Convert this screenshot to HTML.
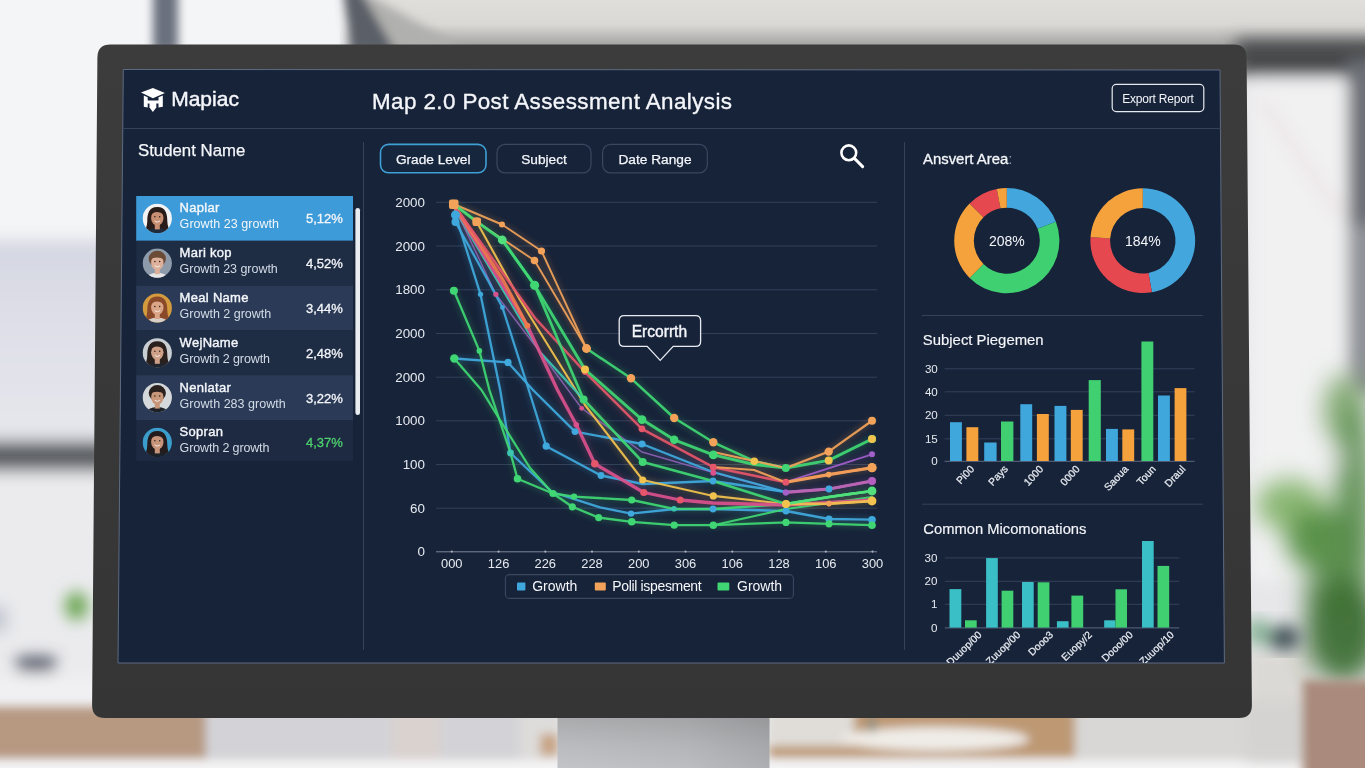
<!DOCTYPE html>
<html lang="en"><head><meta charset="utf-8"><title>Map 2.0 Post Assessment Analysis</title>
<style>
html,body{margin:0;padding:0;background:#e6e6e8;overflow:hidden}
svg{display:block}
text{font-family:"Liberation Sans",sans-serif;fill:#fff}
.t{fill:#f4f6fa}
.sub{fill:#d3dbe6}
.ax{fill:#e6eaf0}
</style></head><body>
<svg width="1365" height="768" viewBox="0 0 1365 768">
<defs>
<filter id="b8" x="-20%" y="-20%" width="140%" height="140%"><feGaussianBlur stdDeviation="8"/></filter>
<filter id="b5" x="-20%" y="-20%" width="140%" height="140%"><feGaussianBlur stdDeviation="5"/></filter>
<filter id="b12" x="-30%" y="-30%" width="160%" height="160%"><feGaussianBlur stdDeviation="12"/></filter>
<filter id="b3" x="-20%" y="-20%" width="140%" height="140%"><feGaussianBlur stdDeviation="3"/></filter>
<linearGradient id="bez" x1="0" y1="0" x2="0" y2="1"><stop offset="0" stop-color="#3c3c3c"/><stop offset="1" stop-color="#353535"/></linearGradient>
<linearGradient id="stand" x1="0" y1="0" x2="1" y2="0"><stop offset="0" stop-color="#c6c7ca"/><stop offset="0.6" stop-color="#bfc0c3"/><stop offset="1" stop-color="#b0b1b4"/></linearGradient>
<linearGradient id="topg" gradientUnits="userSpaceOnUse" x1="0" y1="-10" x2="0" y2="48"><stop offset="0" stop-color="#e2e1de"/><stop offset="0.6" stop-color="#d9d8d5"/><stop offset="1" stop-color="#9c9c9c"/></linearGradient>
<linearGradient id="lav" x1="0" y1="0" x2="0" y2="1"><stop offset="0" stop-color="#d4d6e1"/><stop offset="0.35" stop-color="#dddee7"/><stop offset="1" stop-color="#e7e8ed"/></linearGradient>
<linearGradient id="standsh" x1="0" y1="0" x2="0" y2="1"><stop offset="0" stop-color="#000" stop-opacity="0.15"/><stop offset="0.5" stop-color="#000" stop-opacity="0.06"/><stop offset="1" stop-color="#000" stop-opacity="0"/></linearGradient>
<clipPath id="scr"><path d="M123.3 69.5 L1220 70 L1224.4 663 L118 663 Z"/></clipPath>
</defs>

<g id="bg">
<rect width="1365" height="768" fill="#e7e7ea"/>
<rect x="340" y="-10" width="1030" height="70" fill="url(#topg)"/>
<g filter="url(#b8)">
<rect x="-20" y="-20" width="368" height="265" fill="#f4f5f7"/>
<rect x="-20" y="240" width="140" height="208" fill="url(#lav)"/>
<rect x="-20" y="468" width="140" height="240" fill="#ebebee"/>
<rect x="-20" y="441" width="140" height="30" fill="#595b60"/>
</g>
<g filter="url(#b5)">
<rect x="153" y="-20" width="25" height="72" fill="#6b717e"/>
<polygon points="360,-10 470,52 392,52" fill="#b0b0ae"/>
<polygon points="343,-10 360,-10 396,52 352,52" fill="#5a5e67"/>
</g>
<g filter="url(#b8)">
<ellipse cx="76.500" cy="606" rx="11" ry="14" fill="#62a047"/>
<rect x="16" y="657" width="40" height="14" rx="6" fill="#454b5b"/>
<rect x="-20" y="606" width="27" height="26" fill="#c3c8d1"/>
<rect x="-20" y="678" width="130" height="24" fill="#f1f1f3"/>
</g>
<g filter="url(#b5)">
<rect x="-20" y="707" width="226" height="52" fill="#b79982"/>
<rect x="206" y="700" width="354" height="60" fill="#d3d3d7"/>
<rect x="391" y="700" width="50" height="60" fill="#d9d2cf"/>
<rect x="520" y="700" width="40" height="60" fill="#dedcda"/>
<rect x="540" y="734" width="18" height="22" fill="#c8a585"/>
<rect x="769" y="700" width="306" height="58" fill="#bd9873"/>
<rect x="769" y="700" width="85" height="46" fill="#e0ddd8"/>
<ellipse cx="935" cy="739" rx="94" ry="12" fill="#efece7"/>
<rect x="868" y="716" width="8" height="16" fill="#8f8f80"/>
<rect x="1075" y="700" width="230" height="60" fill="#d8d7d5"/>
<rect x="-20" y="760" width="1400" height="30" fill="#f4f4f5"/>
</g>
<g filter="url(#b8)">
<rect x="1236" y="40" width="150" height="36" fill="#46484c"/>
<rect x="1250" y="80" width="96" height="500" fill="#f1f1f2"/>
<rect x="1348" y="60" width="40" height="170" fill="#6c7076"/>
<rect x="1348" y="225" width="40" height="170" fill="#8e9296"/>
<rect x="1246" y="650" width="70" height="60" fill="#dbd9d5"/>
<rect x="1246" y="700" width="70" height="60" fill="#d4d3d1"/>
<line x1="1262" y1="100" x2="1340" y2="215" stroke="#ead9d9" stroke-width="5"/>
</g>
<g filter="url(#b12)">
<ellipse cx="1345" cy="410" rx="22" ry="36" fill="#7fa76e" opacity="0.9"/>
<ellipse cx="1290" cy="505" rx="34" ry="26" fill="#78ad5e" opacity="0.85"/>
<ellipse cx="1322" cy="540" rx="36" ry="32" fill="#4f8a3c" opacity="0.92"/>
<ellipse cx="1354" cy="520" rx="19" ry="120" fill="#588c4b" opacity="0.9"/>
<ellipse cx="1328" cy="590" rx="24" ry="26" fill="#4c8240" opacity="0.85"/>
<ellipse cx="1343" cy="630" rx="38" ry="52" fill="#3f7035" opacity="0.95"/>
<ellipse cx="1334" cy="458" rx="10" ry="9" fill="#e6ebe2" opacity="0.75"/>
<ellipse cx="1313" cy="577" rx="6" ry="5" fill="#dfe6da" opacity="0.5"/>
</g>
<g filter="url(#b8)">
<ellipse cx="1284" cy="638" rx="17" ry="13" fill="#46565c"/>
<ellipse cx="1258" cy="632" rx="12" ry="14" fill="#8ab598"/>
</g>
<g filter="url(#b5)">
<rect x="1303" y="680" width="80" height="110" fill="#a98a7c"/>
</g>
</g>
<rect x="557.5" y="715" width="212" height="60" fill="url(#stand)"/>
<rect x="557.5" y="715" width="212" height="60" fill="url(#standsh)"/>
<path d="M97.4 57.5 Q97.5 44.5 110.5 44.5 L1233.5 44.5 Q1246.5 44.5 1246.6 57.5 L1251.9 705.0 Q1252.0 718.0 1239.0 718.0 L105.0 718.0 Q92.0 718.0 92.1 705.0 Z" fill="url(#bez)"/>
<path d="M123.3 69.5 L1220 70 L1224.4 663 L118 663 Z" fill="#172339" stroke="#5d6b82" stroke-width="1"/>
<g clip-path="url(#scr)">
<line x1="120" y1="128.5" x2="1224" y2="128.5" stroke="#34425a" stroke-width="1"/>
<line x1="363.5" y1="142" x2="363.5" y2="650" stroke="#34425a" stroke-width="1"/>
<line x1="904.5" y1="142" x2="904.5" y2="650" stroke="#34425a" stroke-width="1"/>
<g fill="#fff">
<polygon points="141,92.6 152.9,88 164.9,92.9 152.9,98.2"/>
<path d="M143.8 95.6 L147.7 97.300 L147.7 100.400 L158.5 100.400 L158.5 97.300 L162.800 95.600 L162.800 106.800 L158.5 107.600 L158.5 103.400 L147.7 103.400 L147.7 107.600 L143.8 106.800 Z"/>
<path d="M149.500 103 H156.300 V107.600 L152.900 112 L149.500 107.600 Z"/>
</g>
<text x="171.2" y="106.3" font-size="21" class="t" stroke="#f4f6fa" stroke-width="0.45">Mapiac</text>
<text x="372" y="109" font-size="22.4" class="t" stroke="#f4f6fa" stroke-width="0.35" textLength="360" lengthAdjust="spacing">Map 2.0 Post Assessment Analysis</text>
<rect x="1112.2" y="84.4" width="91.6" height="27.2" rx="4" fill="none" stroke="#e6eaf0" stroke-width="1.2"/>
<text x="1158" y="102.6" font-size="12" text-anchor="middle" class="t" textLength="71.5" lengthAdjust="spacing">Export Report</text>
<text x="138" y="156" font-size="16.8" class="t" stroke="#f4f6fa" stroke-width="0.25">Student Name</text>
<rect x="380.5" y="144.4" width="105.5" height="28.4" rx="8" fill="#16263d" stroke="#3fa0d6" stroke-width="1.6"/>
<text x="433.2" y="163.7" font-size="13.7" text-anchor="middle" class="t" stroke="#f4f6fa" stroke-width="0.25">Grade Level</text>
<rect x="497.0" y="144.4" width="94.0" height="28.4" rx="8" fill="#172339" stroke="#3a4760" stroke-width="1.2"/>
<text x="544.0" y="163.7" font-size="13.7" text-anchor="middle" class="t" stroke="#f4f6fa" stroke-width="0.25">Subject</text>
<rect x="602.6" y="144.4" width="104.7" height="28.4" rx="8" fill="#172339" stroke="#3a4760" stroke-width="1.2"/>
<text x="655.0" y="163.7" font-size="13.7" text-anchor="middle" class="t" stroke="#f4f6fa" stroke-width="0.25">Date Range</text>
<g fill="none" stroke="#fff" stroke-width="2.6" stroke-linecap="round"><circle cx="848.8" cy="152.8" r="7.4"/><line x1="854.6" y1="158.6" x2="862.6" y2="166.6" stroke-width="3"/></g>
<rect x="136.2" y="196.0" width="216.8" height="44.8" fill="#3c9bd8"/>
<clipPath id="av0"><circle cx="157.3" cy="218.4" r="14.6"/></clipPath>
<g clip-path="url(#av0)">
<rect x="142.3" y="203.4" width="30" height="30" fill="#f3f3f3"/>
<path d="M157.3 206.9 c-9 0 -10 8 -10 14 c0 5 -2 8 -3 12 l26 0 c-1 -4 -3 -7 -3 -12 c0 -6 -1 -14 -10 -14z" fill="#2a1c18"/>
<ellipse cx="157.3" cy="233.9" rx="11" ry="6" fill="#1f2a3a"/>
<rect x="154.8" y="223.4" width="5" height="6" fill="#c98f73"/>
<ellipse cx="157.3" cy="217.9" rx="6.2" ry="7.6" fill="#c98f73"/>
<path d="M150.8 215.4 c2 -4 9 -5 13 0 c-1 -5 -3 -7 -6.5 -7 c-3.500 0 -5.500 2 -6.500 7z" fill="#2a1c18"/>
<path d="M154.7 221.0 q2.600 2.400 5.200 0" fill="none" stroke="#fff" stroke-width="1" opacity="0.8"/>
<circle cx="154.9" cy="216.8" r="0.75" fill="#2a1c18"/><circle cx="159.7" cy="216.8" r="0.75" fill="#2a1c18"/>
</g>
<text x="179.6" y="212.4" font-size="13" class="t" stroke="#f4f6fa" stroke-width="0.4" letter-spacing="0.3">Naplar</text>
<text x="179.6" y="228.4" font-size="12.5" class="t" textLength="99.4" lengthAdjust="spacing">Growth 23 growth</text>
<text x="342.8" y="223.3" font-size="13" text-anchor="end" class="t" stroke="#f4f6fa" stroke-width="0.3">5,12%</text>
<rect x="136.2" y="240.8" width="216.8" height="44.8" fill="#1e2c44"/>
<clipPath id="av1"><circle cx="157.3" cy="263.2" r="14.6"/></clipPath>
<g clip-path="url(#av1)">
<rect x="142.3" y="248.2" width="30" height="30" fill="#8e9bab"/>
<ellipse cx="157.3" cy="258.7" rx="8.6" ry="8" fill="#6b4a36"/>
<ellipse cx="157.3" cy="278.7" rx="11" ry="6" fill="#e8e6e4"/>
<rect x="154.8" y="268.2" width="5" height="6" fill="#dcb09a"/>
<ellipse cx="157.3" cy="262.7" rx="6.2" ry="7.6" fill="#dcb09a"/>
<path d="M150.8 259.7 c2 -3 10 -3 13 0 c0 -6 -3 -8 -6.5 -8 c-3.500 0 -6.500 2 -6.500 8z" fill="#6b4a36"/>
<path d="M154.7 265.8 q2.600 2.400 5.200 0" fill="none" stroke="#fff" stroke-width="1" opacity="0.8"/>
<circle cx="154.9" cy="261.6" r="0.75" fill="#2a1c18"/><circle cx="159.7" cy="261.6" r="0.75" fill="#2a1c18"/>
</g>
<text x="179.6" y="257.2" font-size="13" class="t" stroke="#f4f6fa" stroke-width="0.4" letter-spacing="0.3">Mari kop</text>
<text x="179.6" y="273.2" font-size="12.5" class="sub" textLength="98.2" lengthAdjust="spacing">Growth 23 growth</text>
<text x="342.8" y="268.1" font-size="13" text-anchor="end" class="t" stroke="#f4f6fa" stroke-width="0.3">4,52%</text>
<rect x="136.2" y="285.6" width="216.8" height="44.8" fill="#2b3b57"/>
<clipPath id="av2"><circle cx="157.3" cy="308.0" r="14.6"/></clipPath>
<g clip-path="url(#av2)">
<rect x="142.3" y="293.0" width="30" height="30" fill="#d49a3e"/>
<path d="M157.3 296.5 c-9 0 -10 8 -10 14 c0 5 -2 8 -3 12 l26 0 c-1 -4 -3 -7 -3 -12 c0 -6 -1 -14 -10 -14z" fill="#8a4a2a"/>
<ellipse cx="157.3" cy="323.5" rx="11" ry="6" fill="#d8d0c8"/>
<rect x="154.8" y="313.0" width="5" height="6" fill="#dba587"/>
<ellipse cx="157.3" cy="307.5" rx="6.2" ry="7.6" fill="#dba587"/>
<path d="M150.8 305.0 c2 -4 9 -5 13 0 c-1 -5 -3 -7 -6.5 -7 c-3.500 0 -5.500 2 -6.500 7z" fill="#8a4a2a"/>
<path d="M154.7 310.6 q2.600 2.400 5.200 0" fill="none" stroke="#fff" stroke-width="1" opacity="0.8"/>
<circle cx="154.9" cy="306.4" r="0.75" fill="#2a1c18"/><circle cx="159.7" cy="306.4" r="0.75" fill="#2a1c18"/>
</g>
<text x="179.6" y="302.0" font-size="13" class="t" stroke="#f4f6fa" stroke-width="0.4" letter-spacing="0.3">Meal Name</text>
<text x="179.6" y="318.0" font-size="12.5" class="sub" textLength="91.6" lengthAdjust="spacing">Growth 2 growth</text>
<text x="342.8" y="312.9" font-size="13" text-anchor="end" class="t" stroke="#f4f6fa" stroke-width="0.3">3,44%</text>
<rect x="136.2" y="330.4" width="216.8" height="44.8" fill="#1e2c44"/>
<clipPath id="av3"><circle cx="157.3" cy="352.8" r="14.6"/></clipPath>
<g clip-path="url(#av3)">
<rect x="142.3" y="337.8" width="30" height="30" fill="#c9ced3"/>
<path d="M157.3 341.3 c-9 0 -10 8 -10 14 c0 5 -2 8 -3 12 l26 0 c-1 -4 -3 -7 -3 -12 c0 -6 -1 -14 -10 -14z" fill="#2a211f"/>
<ellipse cx="157.3" cy="368.3" rx="11" ry="6" fill="#20242c"/>
<rect x="154.8" y="357.8" width="5" height="6" fill="#cfa088"/>
<ellipse cx="157.3" cy="352.3" rx="6.2" ry="7.6" fill="#cfa088"/>
<path d="M150.8 349.8 c2 -4 9 -5 13 0 c-1 -5 -3 -7 -6.5 -7 c-3.500 0 -5.500 2 -6.500 7z" fill="#2a211f"/>
<path d="M154.7 355.4 q2.600 2.400 5.200 0" fill="none" stroke="#fff" stroke-width="1" opacity="0.8"/>
<circle cx="154.9" cy="351.2" r="0.75" fill="#2a1c18"/><circle cx="159.7" cy="351.2" r="0.75" fill="#2a1c18"/>
</g>
<text x="179.6" y="346.8" font-size="13" class="t" stroke="#f4f6fa" stroke-width="0.4" letter-spacing="0.3">WejName</text>
<text x="179.6" y="362.8" font-size="12.5" class="sub" textLength="90.4" lengthAdjust="spacing">Growth 2 growth</text>
<text x="342.8" y="357.7" font-size="13" text-anchor="end" class="t" stroke="#f4f6fa" stroke-width="0.3">2,48%</text>
<rect x="136.2" y="375.2" width="216.8" height="44.8" fill="#2b3b57"/>
<clipPath id="av4"><circle cx="157.3" cy="397.6" r="14.6"/></clipPath>
<g clip-path="url(#av4)">
<rect x="142.3" y="382.6" width="30" height="30" fill="#d5d8da"/>
<ellipse cx="157.3" cy="393.1" rx="8.6" ry="8" fill="#2a211e"/>
<ellipse cx="157.3" cy="413.1" rx="11" ry="6" fill="#1e2228"/>
<rect x="154.8" y="402.6" width="5" height="6" fill="#c89678"/>
<ellipse cx="157.3" cy="397.1" rx="6.2" ry="7.6" fill="#c89678"/>
<path d="M150.8 394.1 c2 -3 10 -3 13 0 c0 -6 -3 -8 -6.5 -8 c-3.500 0 -6.500 2 -6.500 8z" fill="#2a211e"/>
<path d="M154.7 400.2 q2.600 2.400 5.200 0" fill="none" stroke="#fff" stroke-width="1" opacity="0.8"/>
<circle cx="154.9" cy="396.0" r="0.75" fill="#2a1c18"/><circle cx="159.7" cy="396.0" r="0.75" fill="#2a1c18"/>
</g>
<text x="179.6" y="391.6" font-size="13" class="t" stroke="#f4f6fa" stroke-width="0.4" letter-spacing="0.3">Nenlatar</text>
<text x="179.6" y="407.6" font-size="12.5" class="sub" textLength="106.2" lengthAdjust="spacing">Growth 283 growth</text>
<text x="342.8" y="402.5" font-size="13" text-anchor="end" class="t" stroke="#f4f6fa" stroke-width="0.3">3,22%</text>
<rect x="136.2" y="420.0" width="216.8" height="41.0" fill="#1d2a41"/>
<clipPath id="av5"><circle cx="157.3" cy="442.4" r="14.6"/></clipPath>
<g clip-path="url(#av5)">
<rect x="142.3" y="427.4" width="30" height="30" fill="#3b9dcb"/>
<path d="M157.3 430.9 c-9 0 -10 8 -10 14 c0 5 -2 8 -3 12 l26 0 c-1 -4 -3 -7 -3 -12 c0 -6 -1 -14 -10 -14z" fill="#241c1c"/>
<ellipse cx="157.3" cy="457.9" rx="11" ry="6" fill="#1c2028"/>
<rect x="154.8" y="447.4" width="5" height="6" fill="#c8957a"/>
<ellipse cx="157.3" cy="441.9" rx="6.2" ry="7.6" fill="#c8957a"/>
<path d="M150.8 439.4 c2 -4 9 -5 13 0 c-1 -5 -3 -7 -6.5 -7 c-3.500 0 -5.500 2 -6.500 7z" fill="#241c1c"/>
<path d="M154.7 445.0 q2.600 2.400 5.200 0" fill="none" stroke="#fff" stroke-width="1" opacity="0.8"/>
<circle cx="154.9" cy="440.8" r="0.75" fill="#2a1c18"/><circle cx="159.7" cy="440.8" r="0.75" fill="#2a1c18"/>
</g>
<text x="179.6" y="436.4" font-size="13" class="t" stroke="#f4f6fa" stroke-width="0.4" letter-spacing="0.3">Sopran</text>
<text x="179.6" y="452.4" font-size="12.5" class="sub" textLength="89.8" lengthAdjust="spacing">Growth 2 growth</text>
<text x="342.8" y="447.3" font-size="13" text-anchor="end" style="fill:#4fd06f;stroke:#4fd06f;stroke-width:0.3">4,37%</text>
<rect x="355.4" y="208" width="4.6" height="207" rx="2.3" fill="#e9edf2"/>
<line x1="436" y1="202.3" x2="877" y2="202.3" stroke="#33405a" stroke-width="1"/>
<line x1="436" y1="246.0" x2="877" y2="246.0" stroke="#33405a" stroke-width="1"/>
<line x1="436" y1="289.8" x2="877" y2="289.8" stroke="#33405a" stroke-width="1"/>
<line x1="436" y1="333.5" x2="877" y2="333.5" stroke="#33405a" stroke-width="1"/>
<line x1="436" y1="377.2" x2="877" y2="377.2" stroke="#33405a" stroke-width="1"/>
<line x1="436" y1="420.8" x2="877" y2="420.8" stroke="#33405a" stroke-width="1"/>
<line x1="436" y1="464.5" x2="877" y2="464.5" stroke="#33405a" stroke-width="1"/>
<line x1="436" y1="508.2" x2="877" y2="508.2" stroke="#33405a" stroke-width="1"/>
<line x1="436" y1="551.8" x2="877" y2="551.8" stroke="#7d8797" stroke-width="1"/>
<text x="425" y="206.9" font-size="13.4" text-anchor="end" class="ax">2000</text>
<text x="425" y="250.6" font-size="13.4" text-anchor="end" class="ax">2000</text>
<text x="425" y="294.4" font-size="13.4" text-anchor="end" class="ax">1800</text>
<text x="425" y="338.1" font-size="13.4" text-anchor="end" class="ax">2000</text>
<text x="425" y="381.8" font-size="13.4" text-anchor="end" class="ax">2000</text>
<text x="425" y="425.4" font-size="13.4" text-anchor="end" class="ax">1000</text>
<text x="425" y="469.1" font-size="13.4" text-anchor="end" class="ax">100</text>
<text x="425" y="512.8" font-size="13.4" text-anchor="end" class="ax">60</text>
<text x="425" y="556.4" font-size="13.4" text-anchor="end" class="ax">0</text>
<circle cx="451.8" cy="551.6" r="1.1" fill="#aab2bf"/>
<text x="451.8" y="568" font-size="12.9" text-anchor="middle" class="ax">000</text>
<circle cx="498.6" cy="551.6" r="1.1" fill="#aab2bf"/>
<text x="498.6" y="568" font-size="12.9" text-anchor="middle" class="ax">126</text>
<circle cx="545.3" cy="551.6" r="1.1" fill="#aab2bf"/>
<text x="545.3" y="568" font-size="12.9" text-anchor="middle" class="ax">226</text>
<circle cx="592.0" cy="551.6" r="1.1" fill="#aab2bf"/>
<text x="592.0" y="568" font-size="12.9" text-anchor="middle" class="ax">228</text>
<circle cx="638.8" cy="551.6" r="1.1" fill="#aab2bf"/>
<text x="638.8" y="568" font-size="12.9" text-anchor="middle" class="ax">200</text>
<circle cx="685.5" cy="551.6" r="1.1" fill="#aab2bf"/>
<text x="685.5" y="568" font-size="12.9" text-anchor="middle" class="ax">306</text>
<circle cx="732.3" cy="551.6" r="1.1" fill="#aab2bf"/>
<text x="732.3" y="568" font-size="12.9" text-anchor="middle" class="ax">106</text>
<circle cx="779.0" cy="551.6" r="1.1" fill="#aab2bf"/>
<text x="779.0" y="568" font-size="12.9" text-anchor="middle" class="ax">128</text>
<circle cx="825.8" cy="551.6" r="1.1" fill="#aab2bf"/>
<text x="825.8" y="568" font-size="12.9" text-anchor="middle" class="ax">106</text>
<circle cx="872.5" cy="551.6" r="1.1" fill="#aab2bf"/>
<text x="872.5" y="568" font-size="12.9" text-anchor="middle" class="ax">300</text>
<g fill="none" stroke-linejoin="round" stroke-linecap="round" filter="url(#b3)" opacity="0.28">
<polyline points="453.5,204.0 502.0,224.5 541.5,251.0 586.5,348.5" stroke="#f2a259" stroke-width="3.6"/>
<polyline points="453.5,204.0 476.5,221.5 534.5,260.5 586.5,348.5" stroke="#f2a259" stroke-width="3.6"/>
<polyline points="455.0,208.0 495.9,294.3 540.0,352.0 581.7,408.3 642.0,452.0 713.3,472.7 785.8,492.4 829.0,489.0 872.0,481.0" stroke="#8d62b4" stroke-width="3.1"/>
<polyline points="455.5,215.0 480.5,294.3 500.2,390.0 510.5,453.0 552.0,492.0 600.0,507.3 631.0,513.6 670.0,509.5 713.0,509.0 786.0,511.0 829.0,519.0 872.0,519.7" stroke="#3fa9dd" stroke-width="4"/>
<polyline points="455.5,222.0 485.0,275.0 502.5,307.5 528.8,390.0 546.2,446.2 601.0,475.5 642.7,484.0 713.0,481.0 786.0,492.0 829.0,489.0 872.0,481.0" stroke="#3fa9dd" stroke-width="4"/>
<polyline points="454.3,358.5 508.0,362.4 533.0,390.0 575.0,431.6 642.0,444.0 713.0,472.0 786.0,492.0" stroke="#3fa9dd" stroke-width="4"/>
<polyline points="453.5,204.0 476.5,221.5 520.0,300.0 585.0,405.0 642.7,480.0 713.3,495.9 786.0,504.0 829.0,503.6 872.0,501.0" stroke="#f1c24e" stroke-width="3.8"/>
<polyline points="455.0,210.0 540.0,352.0 583.6,399.5" stroke="#3cc6b0" stroke-width="3.8"/>
<polyline points="453.9,290.7 479.4,350.9 489.4,390.0 510.5,453.0 517.5,478.8 553.0,493.5 574.0,496.6 631.7,500.0 674.0,508.8 713.0,509.0 786.0,504.0 829.0,497.0 872.0,491.0" stroke="#3fd673" stroke-width="4"/>
<polyline points="454.3,358.5 481.5,390.0 500.0,420.0 530.0,468.0 553.0,493.5 572.3,506.8 598.7,517.6 631.7,521.8 674.2,525.2 713.3,525.2 786.0,522.4 829.0,523.8 872.0,525.2" stroke="#3fd673" stroke-width="4"/>
<polyline points="713.3,525.2 786.0,509.0 872.0,497.0" stroke="#3fd673" stroke-width="3.8"/>
<polyline points="454.0,206.0 527.4,325.8 557.5,390.0 576.3,424.7 594.8,463.8 643.8,492.5 680.2,500.0 713.0,503.0 786.0,505.0 872.0,500.0" stroke="#d9518c" stroke-width="5"/>
<polyline points="454.0,205.0 503.0,280.0 527.4,325.8" stroke="#ee7a4e" stroke-width="5"/>
<polyline points="456.0,208.0 535.0,318.0 585.0,372.0 641.9,428.8 713.3,467.2 785.8,482.2 828.7,474.6 872.0,467.7" stroke="#e5566b" stroke-width="4.2"/>
<polyline points="785.8,482.2 872.0,454.3" stroke="#a060c8" stroke-width="3.6"/>
<polyline points="502.3,240.0 534.6,285.3 583.6,399.5 642.7,462.0 713.0,481.0 786.0,504.0 829.0,497.0 872.0,491.0" stroke="#3fd673" stroke-width="4.4"/>
<polyline points="453.5,204.0 476.5,221.5 502.3,240.0 534.6,285.3 585.0,369.5 642.0,419.6 674.2,439.8 713.3,454.9 754.3,464.5 785.8,468.0 828.7,460.4 872.0,439.0" stroke="#3fd673" stroke-width="4.6"/>
<polyline points="586.5,348.5 631.0,378.3 674.2,418.0 713.3,442.3 754.3,461.2 785.8,468.0" stroke="#3fd673" stroke-width="4.2"/>
<polyline points="713.3,452.0 785.8,468.0 828.7,451.6 872.0,420.7" stroke="#f2a259" stroke-width="4"/>
<polyline points="713.3,467.0 754.0,470.0 785.8,482.2" stroke="#f2a259" stroke-width="3.8"/>
<polyline points="785.8,482.2 828.7,474.6 872.0,467.7" stroke="#f2a259" stroke-width="4.8"/>
<polyline points="785.8,492.4 829.0,489.0 872.0,481.0" stroke="#c45fb0" stroke-width="4.8"/>
<polyline points="786.0,504.0 829.0,503.6 872.0,501.0" stroke="#f1c24e" stroke-width="4.6"/>
<polyline points="786.0,504.0 829.0,497.0 872.0,491.0" stroke="#52e07c" stroke-width="4.4"/>
</g>
<g fill="none" stroke-linejoin="round" stroke-linecap="round">
<polyline points="453.5,204.0 502.0,224.5 541.5,251.0 586.5,348.5" stroke="#f2a259" stroke-width="1.9000000000000001" opacity="0.93"/>
<polyline points="453.5,204.0 476.5,221.5 534.5,260.5 586.5,348.5" stroke="#f2a259" stroke-width="1.9000000000000001" opacity="0.93"/>
<polyline points="455.0,208.0 495.9,294.3 540.0,352.0 581.7,408.3 642.0,452.0 713.3,472.7 785.8,492.4 829.0,489.0 872.0,481.0" stroke="#8d62b4" stroke-width="1.4000000000000001" opacity="0.93"/>
<polyline points="455.5,215.0 480.5,294.3 500.2,390.0 510.5,453.0 552.0,492.0 600.0,507.3 631.0,513.6 670.0,509.5 713.0,509.0 786.0,511.0 829.0,519.0 872.0,519.7" stroke="#3fa9dd" stroke-width="2.3" opacity="0.93"/>
<polyline points="455.5,222.0 485.0,275.0 502.5,307.5 528.8,390.0 546.2,446.2 601.0,475.5 642.7,484.0 713.0,481.0 786.0,492.0 829.0,489.0 872.0,481.0" stroke="#3fa9dd" stroke-width="2.3" opacity="0.93"/>
<polyline points="454.3,358.5 508.0,362.4 533.0,390.0 575.0,431.6 642.0,444.0 713.0,472.0 786.0,492.0" stroke="#3fa9dd" stroke-width="2.3" opacity="0.93"/>
<polyline points="453.5,204.0 476.5,221.5 520.0,300.0 585.0,405.0 642.7,480.0 713.3,495.9 786.0,504.0 829.0,503.6 872.0,501.0" stroke="#f1c24e" stroke-width="2.1" opacity="0.93"/>
<polyline points="455.0,210.0 540.0,352.0 583.6,399.5" stroke="#3cc6b0" stroke-width="2.1" opacity="0.93"/>
<polyline points="453.9,290.7 479.4,350.9 489.4,390.0 510.5,453.0 517.5,478.8 553.0,493.5 574.0,496.6 631.7,500.0 674.0,508.8 713.0,509.0 786.0,504.0 829.0,497.0 872.0,491.0" stroke="#3fd673" stroke-width="2.3" opacity="0.93"/>
<polyline points="454.3,358.5 481.5,390.0 500.0,420.0 530.0,468.0 553.0,493.5 572.3,506.8 598.7,517.6 631.7,521.8 674.2,525.2 713.3,525.2 786.0,522.4 829.0,523.8 872.0,525.2" stroke="#3fd673" stroke-width="2.3" opacity="0.93"/>
<polyline points="713.3,525.2 786.0,509.0 872.0,497.0" stroke="#3fd673" stroke-width="2.1" opacity="0.93"/>
<polyline points="454.0,206.0 527.4,325.8 557.5,390.0 576.3,424.7 594.8,463.8 643.8,492.5 680.2,500.0 713.0,503.0 786.0,505.0 872.0,500.0" stroke="#d9518c" stroke-width="3.3" opacity="0.93"/>
<polyline points="454.0,205.0 503.0,280.0 527.4,325.8" stroke="#ee7a4e" stroke-width="3.3" opacity="0.93"/>
<polyline points="456.0,208.0 535.0,318.0 585.0,372.0 641.9,428.8 713.3,467.2 785.8,482.2 828.7,474.6 872.0,467.7" stroke="#e5566b" stroke-width="2.5" opacity="0.93"/>
<polyline points="785.8,482.2 872.0,454.3" stroke="#a060c8" stroke-width="1.9000000000000001" opacity="0.93"/>
<polyline points="502.3,240.0 534.6,285.3 583.6,399.5 642.7,462.0 713.0,481.0 786.0,504.0 829.0,497.0 872.0,491.0" stroke="#3fd673" stroke-width="2.6999999999999997" opacity="0.93"/>
<polyline points="453.5,204.0 476.5,221.5 502.3,240.0 534.6,285.3 585.0,369.5 642.0,419.6 674.2,439.8 713.3,454.9 754.3,464.5 785.8,468.0 828.7,460.4 872.0,439.0" stroke="#3fd673" stroke-width="2.9" opacity="0.93"/>
<polyline points="586.5,348.5 631.0,378.3 674.2,418.0 713.3,442.3 754.3,461.2 785.8,468.0" stroke="#3fd673" stroke-width="2.5" opacity="0.93"/>
<polyline points="713.3,452.0 785.8,468.0 828.7,451.6 872.0,420.7" stroke="#f2a259" stroke-width="2.3" opacity="0.93"/>
<polyline points="713.3,467.0 754.0,470.0 785.8,482.2" stroke="#f2a259" stroke-width="2.1" opacity="0.93"/>
<polyline points="785.8,482.2 828.7,474.6 872.0,467.7" stroke="#f2a259" stroke-width="3.0999999999999996" opacity="0.93"/>
<polyline points="785.8,492.4 829.0,489.0 872.0,481.0" stroke="#c45fb0" stroke-width="3.0999999999999996" opacity="0.93"/>
<polyline points="786.0,504.0 829.0,503.6 872.0,501.0" stroke="#f1c24e" stroke-width="2.9" opacity="0.93"/>
<polyline points="786.0,504.0 829.0,497.0 872.0,491.0" stroke="#52e07c" stroke-width="2.6999999999999997" opacity="0.93"/>
</g>
<circle cx="453.5" cy="204.0" r="4.2" fill="#f2a259"/>
<circle cx="502.0" cy="224.5" r="3" fill="#f2a259"/>
<circle cx="541.5" cy="251.0" r="3.6" fill="#f2a259"/>
<circle cx="586.5" cy="348.5" r="4" fill="#f2a259"/>
<circle cx="476.5" cy="221.5" r="4" fill="#f2a259"/>
<circle cx="534.5" cy="260.5" r="3.8" fill="#f2a259"/>
<circle cx="495.9" cy="294.3" r="2.6" fill="#d9518c"/>
<circle cx="581.7" cy="408.3" r="2.4" fill="#d9518c"/>
<circle cx="713.3" cy="472.7" r="3" fill="#d9518c"/>
<circle cx="785.8" cy="492.4" r="3" fill="#a060c8"/>
<circle cx="872.0" cy="481.0" r="3.6" fill="#a060c8"/>
<circle cx="455.5" cy="215.0" r="4.5" fill="#3fa9dd"/>
<circle cx="480.5" cy="294.3" r="2.6" fill="#3fa9dd"/>
<circle cx="631.0" cy="513.6" r="3.2" fill="#3fa9dd"/>
<circle cx="713.0" cy="509.0" r="3.4" fill="#3fa9dd"/>
<circle cx="786.0" cy="511.0" r="3.4" fill="#3fa9dd"/>
<circle cx="829.0" cy="519.0" r="3.6" fill="#3fa9dd"/>
<circle cx="872.0" cy="519.7" r="3.8" fill="#3fa9dd"/>
<circle cx="455.5" cy="222.0" r="4" fill="#3fa9dd"/>
<circle cx="502.5" cy="307.5" r="2.4" fill="#3fa9dd"/>
<circle cx="546.2" cy="446.2" r="3.6" fill="#3fa9dd"/>
<circle cx="601.0" cy="475.5" r="3.4" fill="#3fa9dd"/>
<circle cx="713.0" cy="481.0" r="3.4" fill="#3fa9dd"/>
<circle cx="829.0" cy="489.0" r="3.4" fill="#3fa9dd"/>
<circle cx="508.0" cy="362.4" r="3.6" fill="#3fa9dd"/>
<circle cx="575.0" cy="431.6" r="3.4" fill="#3fa9dd"/>
<circle cx="642.0" cy="444.0" r="3.6" fill="#3fa9dd"/>
<circle cx="642.7" cy="480.0" r="3.6" fill="#f1c24e"/>
<circle cx="713.3" cy="495.9" r="3.6" fill="#f1c24e"/>
<circle cx="786.0" cy="504.0" r="3.8" fill="#f1c24e"/>
<circle cx="829.0" cy="503.6" r="2.6" fill="#f2a259"/>
<circle cx="872.0" cy="501.0" r="4" fill="#f1c24e"/>
<circle cx="453.9" cy="290.7" r="4" fill="#3fd673"/>
<circle cx="479.4" cy="350.9" r="2.8" fill="#3fd673"/>
<circle cx="510.5" cy="453.0" r="3.4" fill="#3cc6b0"/>
<circle cx="517.5" cy="478.8" r="3.8" fill="#3fd673"/>
<circle cx="553.0" cy="493.5" r="3.6" fill="#3fd673"/>
<circle cx="574.0" cy="496.6" r="3.2" fill="#3fd673"/>
<circle cx="631.7" cy="500.0" r="3.6" fill="#3fd673"/>
<circle cx="674.0" cy="508.8" r="2.8" fill="#3cc6b0"/>
<circle cx="872.0" cy="491.0" r="4" fill="#52e07c"/>
<circle cx="454.3" cy="358.5" r="4.2" fill="#3fd673"/>
<circle cx="572.3" cy="506.8" r="3.6" fill="#3fd673"/>
<circle cx="598.7" cy="517.6" r="3.6" fill="#3fd673"/>
<circle cx="631.7" cy="521.8" r="3.8" fill="#3fd673"/>
<circle cx="674.2" cy="525.2" r="3.6" fill="#3fd673"/>
<circle cx="713.3" cy="525.2" r="3.8" fill="#3fd673"/>
<circle cx="786.0" cy="522.4" r="3.6" fill="#3fd673"/>
<circle cx="829.0" cy="523.8" r="3.6" fill="#3fd673"/>
<circle cx="872.0" cy="525.2" r="3.8" fill="#3fd673"/>
<circle cx="527.4" cy="325.8" r="3" fill="#ee7a4e"/>
<circle cx="576.3" cy="424.7" r="2.8" fill="#d9518c"/>
<circle cx="594.8" cy="463.8" r="3.8" fill="#e5566b"/>
<circle cx="643.8" cy="492.5" r="3.6" fill="#e5566b"/>
<circle cx="680.2" cy="500.0" r="3.6" fill="#e5566b"/>
<circle cx="585.0" cy="372.0" r="3" fill="#e5566b"/>
<circle cx="641.9" cy="428.8" r="3.4" fill="#e5566b"/>
<circle cx="713.3" cy="467.2" r="3.4" fill="#e5566b"/>
<circle cx="785.8" cy="482.2" r="3.4" fill="#e5566b"/>
<circle cx="828.7" cy="474.6" r="2.6" fill="#f2a259"/>
<circle cx="872.0" cy="467.7" r="4.4" fill="#f2a259"/>
<circle cx="872.0" cy="454.3" r="3" fill="#a060c8"/>
<circle cx="583.6" cy="399.5" r="4" fill="#3fd673"/>
<circle cx="642.7" cy="462.0" r="4" fill="#3fd673"/>
<circle cx="502.3" cy="240.0" r="4.4" fill="#52e07c"/>
<circle cx="534.6" cy="285.3" r="4.6" fill="#3fd673"/>
<circle cx="585.0" cy="369.5" r="4" fill="#f1c24e"/>
<circle cx="642.0" cy="419.6" r="4.4" fill="#3fd673"/>
<circle cx="674.2" cy="439.8" r="4.2" fill="#3fd673"/>
<circle cx="713.3" cy="454.9" r="4.4" fill="#3fd673"/>
<circle cx="785.8" cy="468.0" r="4" fill="#3fd673"/>
<circle cx="828.7" cy="460.4" r="4" fill="#f1c24e"/>
<circle cx="872.0" cy="439.0" r="4" fill="#3fd673"/>
<circle cx="586.5" cy="348.5" r="4.4" fill="#f2a259"/>
<circle cx="631.0" cy="378.3" r="4.2" fill="#f2a259"/>
<circle cx="674.2" cy="418.0" r="4.2" fill="#f2a259"/>
<circle cx="713.3" cy="442.3" r="4.2" fill="#f2a259"/>
<circle cx="754.3" cy="461.2" r="3.8" fill="#f1c24e"/>
<circle cx="828.7" cy="451.6" r="4.2" fill="#f2a259"/>
<circle cx="872.0" cy="420.7" r="4" fill="#f2a259"/>
<circle cx="828.7" cy="474.6" r="2.8" fill="#f2a259"/>
<circle cx="872.0" cy="467.7" r="4.6" fill="#f2a259"/>
<circle cx="785.8" cy="492.4" r="3" fill="#a060c8"/>
<circle cx="829.0" cy="489.0" r="3.2" fill="#3fa9dd"/>
<circle cx="872.0" cy="481.0" r="4" fill="#b45fc0"/>
<circle cx="786.0" cy="504.0" r="4" fill="#f1c24e"/>
<circle cx="829.0" cy="503.6" r="2.8" fill="#f2a259"/>
<circle cx="872.0" cy="501.0" r="4.4" fill="#f1c24e"/>
<circle cx="872.0" cy="491.0" r="4.4" fill="#52e07c"/>
<rect x="449" y="199.500" width="9.500" height="9.500" rx="2" fill="#f2a259"/>
<rect x="472.500" y="217.500" width="8.500" height="8.500" rx="2" fill="#f2a259"/>
<circle cx="872" cy="439" r="4" fill="#f1c24e"/>
<path d="M624.2 315.600 H695.600 Q700.600 315.600 700.600 320.600 V341.400 Q700.600 346.400 695.600 346.400 H673.200 L660.200 360.400 L647.200 346.400 H624.200 Q619.200 346.400 619.200 341.400 V320.600 Q619.200 315.600 624.200 315.600 Z" fill="#172339" stroke="#e8ecf2" stroke-width="1.3"/>
<text x="659.4" y="336.8" font-size="15.6" text-anchor="middle" class="t" stroke="#f4f6fa" stroke-width="0.4">Ercorrth</text>
<rect x="505.4" y="574.6" width="288" height="23.8" rx="4" fill="#172339" stroke="#3a4760" stroke-width="1.1"/>
<rect x="517.0" y="582.6" width="8.4" height="7.800" rx="1" fill="#3fa9dd"/>
<rect x="594.8" y="582.6" width="11.0" height="7.800" rx="1" fill="#f2a259"/>
<rect x="717.5" y="582.6" width="11.8" height="7.800" rx="1" fill="#3fd673"/>
<text x="532.2" y="590.7" font-size="14" class="t">Growth</text>
<text x="612.2" y="590.7" font-size="14" class="t" textLength="89.5" lengthAdjust="spacing">Polil ispesment</text>
<text x="737" y="590.7" font-size="14" class="t">Growth</text>
<text x="923" y="164" font-size="14.9" class="t" stroke="#f4f6fa" stroke-width="0.3">Ansvert Area<tspan fill="#8d98aa" stroke="none">:</tspan></text>
<path d="M1006.80 188.10 A52.6 52.6 0 0 1 1055.91 221.85 L1037.61 228.87 A33.0 33.0 0 0 0 1006.80 207.70 Z" fill="#43a6dc"/>
<path d="M1055.91 221.85 A52.6 52.6 0 0 1 969.61 277.89 L983.47 264.03 A33.0 33.0 0 0 0 1037.61 228.87 Z" fill="#3fd071"/>
<path d="M969.61 277.89 A52.6 52.6 0 0 1 969.61 203.51 L983.47 217.37 A33.0 33.0 0 0 0 983.47 264.03 Z" fill="#f5a23d"/>
<path d="M969.61 203.51 A52.6 52.6 0 0 1 996.76 189.07 L1000.50 208.31 A33.0 33.0 0 0 0 983.47 217.37 Z" fill="#e5484f"/>
<path d="M996.76 189.07 A52.6 52.6 0 0 1 1006.80 188.10 L1006.80 207.70 A33.0 33.0 0 0 0 1000.50 208.31 Z" fill="#f5a23d"/>
<path d="M1142.80 188.30 A52.4 52.4 0 0 1 1151.90 292.30 L1148.48 272.90 A32.7 32.7 0 0 0 1142.80 208.00 Z" fill="#43a6dc"/>
<path d="M1151.90 292.30 A52.4 52.4 0 0 1 1090.53 237.04 L1110.18 238.42 A32.7 32.7 0 0 0 1148.48 272.90 Z" fill="#e5484f"/>
<path d="M1090.53 237.04 A52.4 52.4 0 0 1 1142.80 188.30 L1142.80 208.00 A32.7 32.7 0 0 0 1110.18 238.42 Z" fill="#f5a23d"/>
<text x="1006.8" y="246" font-size="14" text-anchor="middle" class="t">208%</text>
<text x="1142.8" y="246" font-size="14" text-anchor="middle" class="t">184%</text>
<line x1="922" y1="315.500" x2="1203" y2="315.500" stroke="#34425a" stroke-width="1"/>
<text x="922.8" y="344.8" font-size="14.9" class="t" stroke="#f4f6fa" stroke-width="0.15">Subject Piegemen</text>
<line x1="944.600" y1="368.8" x2="1194.600" y2="368.8" stroke="#33405a" stroke-width="1"/>
<line x1="944.600" y1="391.8" x2="1194.600" y2="391.8" stroke="#33405a" stroke-width="1"/>
<line x1="944.600" y1="415.3" x2="1194.600" y2="415.3" stroke="#33405a" stroke-width="1"/>
<line x1="944.600" y1="438.8" x2="1194.600" y2="438.8" stroke="#33405a" stroke-width="1"/>
<line x1="944.600" y1="461.3" x2="1194.600" y2="461.3" stroke="#4d5a72" stroke-width="1.2"/>
<text x="937.8" y="372.9" font-size="11.6" text-anchor="end" class="ax">30</text>
<text x="937.8" y="395.9" font-size="11.6" text-anchor="end" class="ax">40</text>
<text x="937.8" y="419.4" font-size="11.6" text-anchor="end" class="ax">20</text>
<text x="937.8" y="442.9" font-size="11.6" text-anchor="end" class="ax">15</text>
<text x="937.8" y="465.4" font-size="11.6" text-anchor="end" class="ax">0</text>
<rect x="950.0" y="422.2" width="11.9" height="38.8" fill="#3fa7dc"/>
<rect x="966.4" y="427.2" width="11.9" height="33.8" fill="#f5a13c"/>
<rect x="984.2" y="442.5" width="12.4" height="18.5" fill="#3fa7dc"/>
<rect x="1001.0" y="421.5" width="12.4" height="39.5" fill="#40d072"/>
<rect x="1020.3" y="404.2" width="11.9" height="56.8" fill="#3fa7dc"/>
<rect x="1036.9" y="414.0" width="11.9" height="47.0" fill="#f5a13c"/>
<rect x="1054.5" y="405.9" width="11.9" height="55.1" fill="#3fa7dc"/>
<rect x="1070.8" y="409.9" width="11.9" height="51.1" fill="#f5a13c"/>
<rect x="1088.7" y="380.1" width="12.1" height="80.9" fill="#40d072"/>
<rect x="1106.0" y="428.9" width="11.9" height="32.1" fill="#3fa7dc"/>
<rect x="1122.3" y="429.4" width="11.9" height="31.6" fill="#f5a13c"/>
<rect x="1141.4" y="341.5" width="11.9" height="119.5" fill="#40d072"/>
<rect x="1158.0" y="395.5" width="11.9" height="65.5" fill="#3fa7dc"/>
<rect x="1174.6" y="388.1" width="11.8" height="72.9" fill="#f5a13c"/>
<text transform="translate(975.0 469.500) rotate(-47)" font-size="10.4" text-anchor="end" class="ax" stroke="#e6eaf0" stroke-width="0.25">Pi00</text>
<text transform="translate(1008.5 469.500) rotate(-47)" font-size="10.4" text-anchor="end" class="ax" stroke="#e6eaf0" stroke-width="0.25">Pays</text>
<text transform="translate(1044.0 469.500) rotate(-47)" font-size="10.4" text-anchor="end" class="ax" stroke="#e6eaf0" stroke-width="0.25">1000</text>
<text transform="translate(1080.5 469.500) rotate(-47)" font-size="10.4" text-anchor="end" class="ax" stroke="#e6eaf0" stroke-width="0.25">0000</text>
<text transform="translate(1129.0 469.500) rotate(-47)" font-size="10.4" text-anchor="end" class="ax" stroke="#e6eaf0" stroke-width="0.25">Saoua</text>
<text transform="translate(1156.5 469.500) rotate(-47)" font-size="10.4" text-anchor="end" class="ax" stroke="#e6eaf0" stroke-width="0.25">Toun</text>
<text transform="translate(1186.0 469.500) rotate(-47)" font-size="10.4" text-anchor="end" class="ax" stroke="#e6eaf0" stroke-width="0.25">Draul</text>
<line x1="922" y1="504.2" x2="1203" y2="504.2" stroke="#34425a" stroke-width="1"/>
<text x="923.3" y="534" font-size="14.75" class="t" stroke="#f4f6fa" stroke-width="0.15">Common Micomonations</text>
<line x1="944.800" y1="557.9" x2="1179.300" y2="557.9" stroke="#33405a" stroke-width="1"/>
<line x1="944.800" y1="581.3" x2="1179.300" y2="581.3" stroke="#33405a" stroke-width="1"/>
<line x1="944.800" y1="604.3" x2="1179.300" y2="604.3" stroke="#33405a" stroke-width="1"/>
<line x1="944.800" y1="627.9" x2="1179.300" y2="627.9" stroke="#4d5a72" stroke-width="1.2"/>
<text x="937.4" y="562.0" font-size="11.6" text-anchor="end" class="ax">30</text>
<text x="937.4" y="585.4" font-size="11.6" text-anchor="end" class="ax">20</text>
<text x="937.4" y="608.4" font-size="11.6" text-anchor="end" class="ax">1</text>
<text x="937.4" y="632.0" font-size="11.6" text-anchor="end" class="ax">0</text>
<rect x="949.5" y="589.1" width="11.8" height="38.5" fill="#3bbfc6"/>
<rect x="965.0" y="620.3" width="11.7" height="7.3" fill="#40d072"/>
<rect x="986.1" y="558.1" width="11.7" height="69.5" fill="#3bbfc6"/>
<rect x="1001.6" y="590.7" width="11.7" height="36.9" fill="#40d072"/>
<rect x="1022.0" y="582.0" width="11.7" height="45.6" fill="#3bbfc6"/>
<rect x="1037.7" y="582.3" width="11.7" height="45.3" fill="#40d072"/>
<rect x="1056.9" y="621.2" width="11.7" height="6.4" fill="#3bbfc6"/>
<rect x="1071.4" y="595.6" width="11.8" height="32.0" fill="#40d072"/>
<rect x="1104.2" y="620.3" width="11.3" height="7.3" fill="#3bbfc6"/>
<rect x="1115.5" y="589.3" width="11.5" height="38.3" fill="#40d072"/>
<rect x="1142.0" y="541.0" width="11.7" height="86.6" fill="#3bbfc6"/>
<rect x="1157.5" y="565.9" width="11.7" height="61.7" fill="#40d072"/>
<text transform="translate(982.4 635.500) rotate(-44)" font-size="10.2" text-anchor="end" class="ax" stroke="#e6eaf0" stroke-width="0.25">Duuop/00</text>
<text transform="translate(1021.0 635.500) rotate(-44)" font-size="10.2" text-anchor="end" class="ax" stroke="#e6eaf0" stroke-width="0.25">Zuuop/00</text>
<text transform="translate(1053.9 635.500) rotate(-44)" font-size="10.2" text-anchor="end" class="ax" stroke="#e6eaf0" stroke-width="0.25">Dooo3</text>
<text transform="translate(1092.5 635.500) rotate(-44)" font-size="10.2" text-anchor="end" class="ax" stroke="#e6eaf0" stroke-width="0.25">Euopy/2</text>
<text transform="translate(1133.5 635.500) rotate(-44)" font-size="10.2" text-anchor="end" class="ax" stroke="#e6eaf0" stroke-width="0.25">Dooo/00</text>
<text transform="translate(1174.6 635.500) rotate(-44)" font-size="10.2" text-anchor="end" class="ax" stroke="#e6eaf0" stroke-width="0.25">Zuuop/10</text>
</g>
</svg></body></html>
